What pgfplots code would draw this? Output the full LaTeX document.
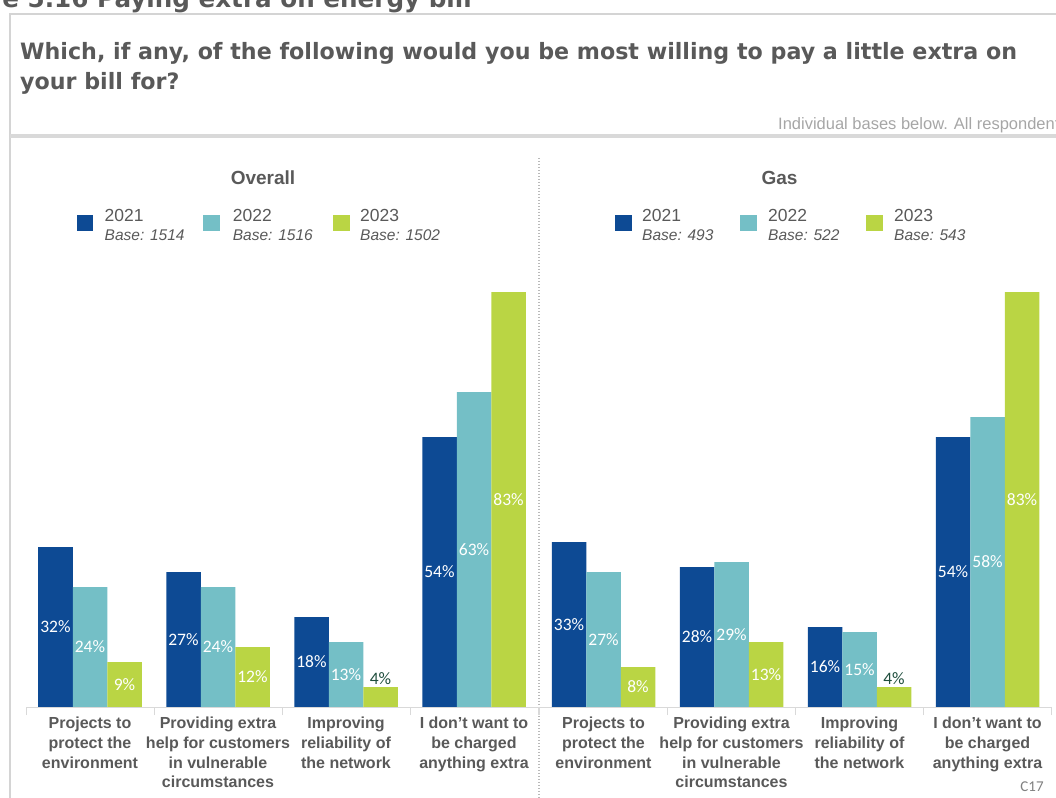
\documentclass[border=0pt]{standalone}
\usepackage{pgfplots}
\pgfplotsset{compat=1.18}
\usepackage{fontspec}
\setmainfont{Liberation Sans}
\newfontfamily\titlefont{DejaVu Sans}
\newfontfamily\calib{Carlito}
\definecolor{c21}{HTML}{0D4A94}
\definecolor{c22}{HTML}{74BFC6}
\definecolor{c23}{HTML}{BAD544}
\definecolor{txtgray}{HTML}{595959}
\definecolor{titlegray}{HTML}{595959}
\definecolor{axgray}{HTML}{D9D9D9}
\definecolor{subgray}{HTML}{A6A6A6}
\definecolor{framegray}{HTML}{D4D4D4}
\definecolor{dkgreen}{HTML}{1F4E3D}
\newlength\twidth

\pgfplotsset{
  mybar/.style={
    scale only axis, width=512bp, height=450bp,
    xmin=-0.5, xmax=3.5, ymin=0, ymax=90,
    ybar=0pt, bar width=34.5bp,
    axis y line=none,
    axis x line*=bottom,
    x axis line style={draw=axgray, line width=1pt, -},
    xtick={0,1,2,3},
    xticklabels={{Projects to\\protect the\\environment},{Providing extra\\help for customers\\in vulnerable\\circumstances},{Improving\\reliability of\\the network},{I don’t want to\\be charged\\anything extra}},
    major tick length=0pt,
    tick style={draw=axgray, line width=1pt},
    tick align=outside,
    extra x ticks={-0.5,0.5,1.5,2.5,3.5},
    extra x tick labels={},
    extra x tick style={major tick length=8bp},
    xticklabel style={font=\fontsize{16bp}{19.7bp}\selectfont\bfseries, text=txtgray, align=center, anchor=north, inner sep=0pt, yshift=-10bp},
    /pgf/number format/assume math mode=true,
    visualization depends on={y \as \rawy},
    nodes near coords={\pgfmathtruncatemacro\issmall{\rawy<5}\ifnum\issmall=1 \textcolor{dkgreen}{\pgfmathprintnumber{\pgfplotspointmeta}\%}\else\pgfmathprintnumber{\pgfplotspointmeta}\%\fi},
    every node near coord/.append style={font=\calib\fontsize{17.5bp}{20bp}\selectfont, text=white, anchor=center, inner sep=0pt, yshift={ifthenelse(\rawy<5,8,-2.5*\rawy)*1bp}},
    clip=false,
    enlargelimits=false,
  }
}

\begin{document}%
\settowidth\twidth{\titlefont\bfseries\fontsize{22.5bp}{26bp}\selectfont Which, if any, of the following would you be most willing to pay a little extra on}%
\pgfmathsetmacro\tscale{1000.5pt/\twidth}%
\begin{tikzpicture}
\begin{scope}[x=1bp,y=-1bp,shift={(0,798bp)}]
  % frame
  \draw[framegray, line width=2bp] (10,798) -- (10,14) -- (1060,14);
  \draw[axgray, line width=4bp] (10,136) -- (1060,136);
  \draw[gray!55, line width=1.2bp, dash pattern=on 1.5bp off 1.5bp] (539,158) -- (539,798);
  % header (cut off)
  \node[anchor=base east, inner sep=0pt, text=titlegray] at (472,7.5) {\scalebox{\tscale}[1]{\titlefont\bfseries\fontsize{25bp}{29bp}\selectfont Figure 5.16 Paying extra on energy bill}};
  % title
  \node[anchor=base west, inner sep=0pt, text=titlegray] at (20,60) {\scalebox{\tscale}[1]{\titlefont\bfseries\fontsize{22.5bp}{26bp}\selectfont Which, if any, of the following would you be most willing to pay a little extra on}};
  \node[anchor=base west, inner sep=0pt, text=titlegray] at (20,90) {\scalebox{\tscale}[1]{\titlefont\bfseries\fontsize{22.5bp}{26bp}\selectfont your bill for?}};
  \node[anchor=base west, inner sep=0pt, text=subgray, font=\fontsize{16.5bp}{19bp}\selectfont] at (778,130) {Individual bases below. All respondents};
  % panel titles
  \node[anchor=base, inner sep=0pt, text=txtgray, font=\fontsize{19bp}{22bp}\selectfont\bfseries] at (263,185) {Overall};
  \node[anchor=base, inner sep=0pt, text=txtgray, font=\fontsize{19bp}{22bp}\selectfont\bfseries] at (779.5,185) {Gas};
  % legends
  \foreach \sx/\tx/\col/\yr/\bs in {76.5/104.5/c21/2021/1514, 203/232.7/c22/2022/1516, 333/360/c23/2023/1502, 615/642/c21/2021/493, 740/768/c22/2022/522, 866/894/c23/2023/543}{
    \fill[\col] (\sx,215) rectangle ++(16.5,16.5);
    \node[anchor=base west, inner sep=0pt, text=txtgray, font=\fontsize{17.5bp}{20bp}\selectfont] at (\tx,222) {\yr};
    \node[anchor=base west, inner sep=0pt, text=txtgray, font=\fontsize{15.5bp}{18bp}\selectfont\itshape] at (\tx,241) {Base: \bs};
  }
  \node[anchor=center, inner sep=0pt, text=gray, font=\calib\fontsize{15bp}{18bp}\selectfont] at (1032,787) {C17};
\end{scope}

\begin{axis}[mybar, at={(26bp,91bp)}, anchor=south west]
\addplot[fill=c21, draw=none] coordinates {(0,32) (1,27) (2,18) (3,54)};
\addplot[fill=c22, draw=none] coordinates {(0,24) (1,24) (2,13) (3,63)};
\addplot[fill=c23, draw=none] coordinates {(0,9) (1,12) (2,4) (3,83)};
\end{axis}

\begin{axis}[mybar, at={(539.5bp,91bp)}, anchor=south west]
\addplot[fill=c21, draw=none] coordinates {(0,33) (1,28) (2,16) (3,54)};
\addplot[fill=c22, draw=none] coordinates {(0,27) (1,29) (2,15) (3,58)};
\addplot[fill=c23, draw=none] coordinates {(0,8) (1,13) (2,4) (3,83)};
\end{axis}

\pgfresetboundingbox
\path[use as bounding box] (0,0) rectangle (1056bp,798bp);
\end{tikzpicture}%
\end{document}
